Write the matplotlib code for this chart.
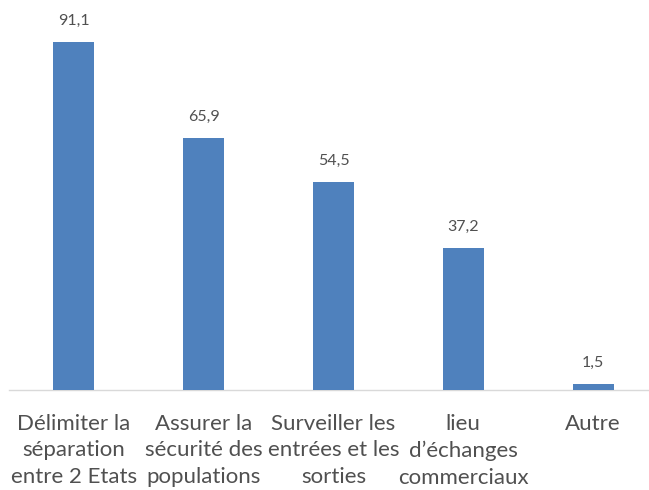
import matplotlib.pyplot as plt

categories = [
    "Délimiter la\nséparation\nentre 2 Etats",
    "Assurer la\nsécurité des\npopulations",
    "Surveiller les\nentrées et les\nsorties",
    "lieu\nd\u2019échanges\ncommerciaux",
    "Autre",
]
values = [91.1, 65.9, 54.5, 37.2, 1.5]
value_labels = ["91,1", "65,9", "54,5", "37,2", "1,5"]

plt.rcParams['font.family'] = ['Lato', 'DejaVu Sans']

fig = plt.figure(figsize=(6.49, 4.90), dpi=100)
ax = fig.add_axes([9 / 649, 1 - 390 / 490, 649 / 649, 382 / 490])

x = range(len(values))
bars = ax.bar(x, values, width=0.315, color='#4F81BD', zorder=3)
for rect, lab in zip(bars, value_labels):
    ax.annotate(lab, (rect.get_x() + rect.get_width() / 2, rect.get_height()),
                xytext=(0, 10), textcoords='offset points', ha='center', va='bottom',
                fontsize=11.5, color='#505050')

ax.set_xlim(-0.5, 4.5)
ax.set_ylim(0, 100)
ax.set_xticks(list(x))
ax.set_xticklabels(categories, fontsize=16, color='#505050', linespacing=1.42)
ax.tick_params(axis='x', length=0, pad=17)
ax.set_yticks([])
for side in ['left', 'right', 'top']:
    ax.spines[side].set_visible(False)
ax.spines['bottom'].set_color('#D9D9D9')
ax.spines['bottom'].set_linewidth(1.0)

fig.savefig('out.png', dpi=100)
